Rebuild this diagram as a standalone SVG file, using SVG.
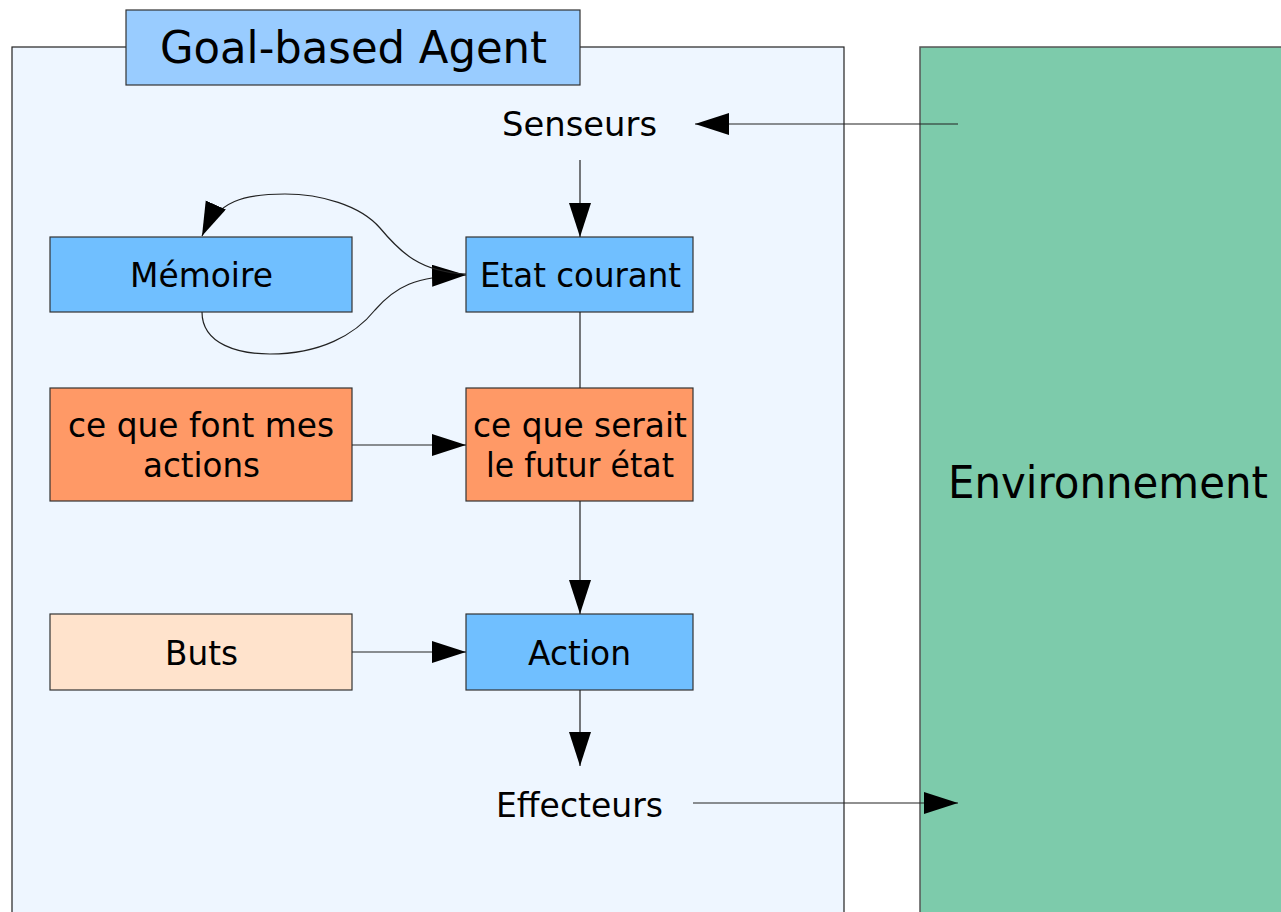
<svg xmlns="http://www.w3.org/2000/svg" width="1281" height="912" viewBox="0 0 1281 912">
<style>
text{font-family:"DejaVu Sans",Verdana,sans-serif;fill:#000;text-anchor:middle}
.box{stroke:#333;stroke-width:1.2}
.blue{fill:#70bfff}
.orange{fill:#ff9966}
.peach{fill:#ffe3cc}
.t{font-size:33.5px}
.big{font-size:44px}
.c{fill:none;stroke:#222;stroke-width:1.2}
</style>
<defs>
<marker id="ah" markerUnits="userSpaceOnUse" markerWidth="36" markerHeight="24" refX="34" refY="11" orient="auto">
<path d="M0,0 L34,11 L0,22 z" fill="#000"/>
</marker>
</defs>
<rect width="1281" height="912" fill="#fff"/>
<g id="agent">
<rect x="12" y="47" width="832" height="880" fill="#eef6ff" stroke="#222" stroke-width="1.2"/>
</g>
<g id="title">
<rect x="126" y="10" width="454" height="75" fill="#99ccff" class="box"/>
<text class="big" x="353.5" y="63" textLength="387" lengthAdjust="spacingAndGlyphs">Goal-based Agent</text>
</g>
<g id="environnement">
<rect x="920" y="47" width="380" height="880" fill="#7dcbab" stroke="#555" stroke-width="1.5"/>
<text class="big" x="1108" y="498" textLength="320" lengthAdjust="spacingAndGlyphs">Environnement</text>
</g>
<g id="senseurs"><text class="t" x="579.5" y="136" textLength="155" lengthAdjust="spacingAndGlyphs">Senseurs</text></g>
<g id="effecteurs"><text class="t" x="579.5" y="817" textLength="167" lengthAdjust="spacingAndGlyphs">Effecteurs</text></g>
<g id="memoire"><rect class="box blue" x="50" y="237" width="302" height="75"/><text class="t" x="201.5" y="287" textLength="143" lengthAdjust="spacingAndGlyphs">Mémoire</text></g>
<g id="etat"><rect class="box blue" x="466" y="237" width="227" height="75"/><text class="t" x="580.5" y="287" textLength="201" lengthAdjust="spacingAndGlyphs">Etat courant</text></g>
<g id="actions"><rect class="box orange" x="50" y="388" width="302" height="113"/><text class="t" x="201" y="437" textLength="266" lengthAdjust="spacingAndGlyphs">ce que font mes</text><text class="t" x="201.5" y="477" textLength="117" lengthAdjust="spacingAndGlyphs">actions</text></g>
<g id="futur"><rect class="box orange" x="466" y="388" width="227" height="113"/><text class="t" x="580" y="437" textLength="214" lengthAdjust="spacingAndGlyphs">ce que serait</text><text class="t" x="580" y="477" textLength="188" lengthAdjust="spacingAndGlyphs">le futur état</text></g>
<g id="buts"><rect class="box peach" x="50" y="614" width="302" height="76"/><text class="t" x="201.5" y="665" textLength="73" lengthAdjust="spacingAndGlyphs">Buts</text></g>
<g id="action"><rect class="box blue" x="466" y="614" width="227" height="76"/><text class="t" x="579.5" y="665" textLength="103" lengthAdjust="spacingAndGlyphs">Action</text></g>
<g id="connectors">
<path class="c" d="M958,124 L695,124" marker-end="url(#ah)"/>
<path class="c" d="M580,160 L580,237" marker-end="url(#ah)"/>
<path class="c" d="M580,312 L580,388"/>
<path class="c" d="M352,445 L466,445" marker-end="url(#ah)"/>
<path class="c" d="M580,501 L580,614" marker-end="url(#ah)"/>
<path class="c" d="M352,652 L466,652" marker-end="url(#ah)"/>
<path class="c" d="M580,690 L580,766" marker-end="url(#ah)"/>
<path class="c" d="M693,803 L958,803" marker-end="url(#ah)"/>
<path class="c" d="M202,312 C202,345 240,354 270,354 C320,354 355,335 375,310 C395,287 415,276 466,275" marker-end="url(#ah)"/>
<path class="c" d="M466,274 C420,272 400,252 380,228 C360,205 320,194 285,194 C245,194 218,200 202,236" marker-end="url(#ah)"/>
</g>
</svg>
